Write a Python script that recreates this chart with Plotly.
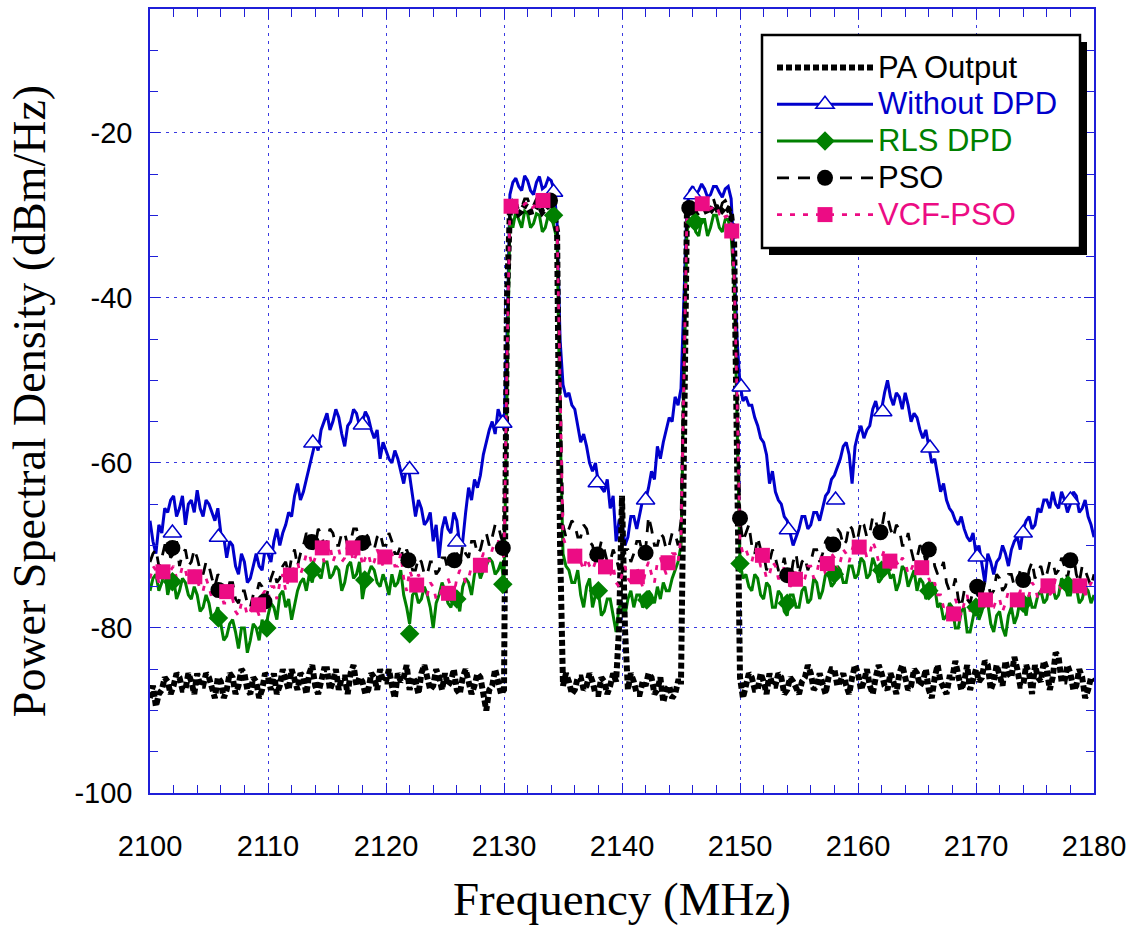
import plotly.graph_objects as go

# ---------------- data ----------------
freq = [2100 + 0.25 * i for i in range(321)]  # MHz

pa_output = [
    -88.5, -87.0, -89.5, -88.0, -87.5, -86.0, -86.5, -88.0, -87.0, -85.5, -86.0, -87.5, -87.5, -85.5, -86.5, -88.0, -85.5, -87.0, -87.0, -85.5,
    -86.0, -87.5, -88.5, -86.0, -86.5, -88.5, -87.5, -85.5, -86.0, -88.0, -87.0, -85.0, -85.5, -87.5, -88.0, -86.0, -86.5, -88.5, -87.5, -85.5,
    -86.0, -87.5, -85.5, -88.0, -87.0, -85.0, -86.0, -87.5, -85.0, -86.5, -87.5, -85.5, -86.0, -88.0, -85.5, -84.5, -87.0, -88.0, -86.5, -85.0,
    -85.0, -87.5, -86.5, -85.0, -87.5, -86.0, -86.0, -88.0, -85.5, -84.5, -87.0, -86.0, -86.5, -88.0, -87.5, -85.5, -86.0, -87.5, -85.0, -86.5,
    -86.5, -85.0, -87.0, -88.5, -85.5, -86.5, -86.0, -84.5, -87.5, -86.0, -86.5, -88.0, -85.5, -84.5, -86.0, -87.5, -87.0, -85.0, -86.0, -87.5,
    -85.5, -87.0, -86.5, -85.0, -87.5, -88.0, -86.0, -85.0, -86.5, -88.0, -87.0, -85.5, -86.0, -88.5, -90.0, -87.5, -87.0, -85.0, -86.5, -88.0,
    -87.5, -40.0, -29.5, -29.0, -29.0, -29.8, -29.5, -28.8, -29.0, -29.6, -29.5, -28.9, -28.8, -29.6, -29.2, -28.8, -29.0, -29.8, -32.0, -70.0,
    -87.0, -85.5, -86.5, -88.0, -87.5, -86.0, -86.0, -87.5, -87.0, -85.5, -86.5, -88.0, -88.0, -86.0, -86.5, -88.0, -87.0, -85.5, -86.5, -80.0,
    -64.0, -80.0, -87.5, -85.5, -86.5, -88.0, -88.0, -86.5, -87.0, -85.5, -86.0, -88.0, -87.5, -86.0, -89.0, -87.5, -87.0, -88.5, -88.0, -86.5,
    -86.5, -50.0, -30.0, -29.2, -29.0, -29.8, -29.5, -28.8, -29.0, -29.8, -29.5, -28.9, -29.0, -29.8, -29.5, -29.0, -29.2, -30.0, -33.0, -60.0,
    -86.0, -88.5, -87.0, -85.5, -86.0, -87.5, -87.5, -85.5, -86.5, -88.0, -85.5, -87.0, -87.0, -85.5, -86.0, -88.0, -87.5, -86.0, -86.5, -87.5,
    -88.0, -86.5, -86.0, -84.5, -85.5, -87.5, -87.0, -85.5, -86.5, -88.0, -86.0, -85.0, -85.0, -87.0, -86.5, -85.5, -87.0, -88.0, -86.0, -84.5,
    -85.5, -87.5, -86.5, -85.0, -87.0, -88.0, -86.0, -84.5, -85.5, -87.0, -87.5, -85.5, -86.5, -88.0, -85.5, -84.5, -86.0, -87.5, -87.0, -85.0,
    -85.5, -87.0, -86.5, -85.0, -87.5, -88.5, -86.0, -84.5, -86.5, -87.5, -88.0, -86.0, -86.0, -84.0, -85.5, -87.5, -86.5, -84.5, -87.5, -86.0,
    -85.0, -86.5, -86.0, -84.0, -84.5, -87.5, -86.5, -84.5, -85.5, -87.0, -84.0, -85.5, -86.0, -83.5, -85.0, -87.0, -87.0, -84.5, -85.5, -88.0,
    -84.5, -86.0, -86.5, -84.0, -85.0, -87.5, -86.0, -83.0, -83.5, -86.5, -86.5, -84.5, -85.5, -87.5, -87.0, -85.0, -86.0, -88.5, -87.5, -86.0,
    -86.5,
]

without_dpd = [
    -67.0, -69.5, -71.0, -67.5, -68.5, -65.5, -66.0, -64.5, -64.0, -66.5, -65.5, -64.0, -67.5, -65.0, -64.5, -66.0, -63.3, -65.5, -66.5, -64.5,
    -65.0, -66.0, -67.0, -65.5, -68.5, -69.0, -71.5, -69.5, -70.0, -72.5, -73.5, -71.0, -72.0, -74.5, -74.0, -72.5, -71.0, -72.5, -73.0, -70.5,
    -71.0, -72.0, -69.5, -68.0, -70.0, -68.5, -67.5, -66.0, -66.5, -64.0, -62.5, -64.5, -63.5, -62.0, -60.5, -59.0, -57.5, -58.5, -56.0, -55.0,
    -54.0, -56.0, -55.0, -53.5, -54.5, -56.5, -58.0, -55.5, -55.0, -53.5, -54.0, -55.5, -55.0, -53.8, -54.5, -56.0, -57.0, -56.0, -59.5, -57.5,
    -58.5, -59.5, -60.0, -58.5, -59.5, -61.0, -62.5, -60.5, -61.5, -64.0, -66.5, -64.5, -65.5, -67.5, -67.0, -66.0, -69.5, -67.5, -71.5, -68.0,
    -66.5, -68.0, -68.5, -66.0, -67.0, -70.0, -69.5, -66.0, -63.0, -64.5, -62.0, -63.0, -61.5, -59.0, -57.5, -56.0, -55.0, -56.5, -53.5, -54.5,
    -56.0, -45.0, -27.5, -26.0, -25.5, -26.5, -27.0, -25.2, -25.8, -27.0, -27.5, -26.0, -25.3, -26.8, -26.5, -25.5, -25.8, -27.0, -31.0, -45.0,
    -50.5, -52.0, -51.5, -53.0, -53.5, -55.5, -57.5, -56.5, -58.0, -60.0, -61.0, -60.0, -62.5, -63.0, -63.5, -62.0, -65.5, -64.0, -69.5, -67.0,
    -67.0, -70.0, -69.0, -66.5, -66.5, -68.0, -66.0, -64.5, -64.5, -63.0, -61.0, -62.0, -58.0, -59.5, -57.5, -56.0, -54.5, -55.0, -52.0, -53.0,
    -51.0, -40.0, -29.0, -27.0, -26.5, -27.5, -27.0, -26.2, -26.8, -27.8, -27.5, -26.5, -26.5, -27.2, -27.8, -26.8, -26.5, -28.0, -35.0, -45.0,
    -50.5, -52.5, -52.0, -53.0, -53.0, -54.5, -55.5, -57.0, -57.5, -59.0, -62.5, -61.0, -63.5, -64.5, -65.0, -66.5, -67.0, -68.5, -70.0, -69.0,
    -68.0, -66.5, -66.5, -68.0, -67.5, -66.0, -66.0, -67.0, -65.5, -64.0, -63.5, -62.0, -61.5, -60.5, -59.5, -58.0, -57.5, -59.0, -62.5, -58.0,
    -56.5, -55.5, -57.0, -56.0, -55.5, -53.5, -52.5, -54.0, -53.5, -51.5, -50.0, -52.0, -53.0, -51.5, -52.0, -53.5, -51.5, -53.0, -55.0, -54.0,
    -54.5, -56.0, -57.0, -56.0, -58.0, -60.0, -59.5, -61.5, -63.5, -62.5, -64.5, -65.5, -66.0, -67.0, -67.5, -66.5, -68.0, -69.0, -69.5, -68.5,
    -71.0, -70.0, -72.5, -74.5, -71.0, -72.0, -73.5, -72.0, -71.5, -70.0, -71.0, -72.5, -70.5, -69.5, -69.0, -70.5, -68.0, -67.0, -66.5, -68.0,
    -67.5, -65.5, -66.0, -64.5, -64.5, -65.5, -63.5, -65.0, -65.5, -63.5, -64.5, -66.0, -65.0, -63.5, -64.0, -66.0, -65.5, -64.5, -66.5, -67.5,
    -69.0,
]

rls_dpd = [
    -75.5, -74.0, -73.5, -75.5, -74.5, -73.0, -76.0, -74.5, -74.0, -76.5, -75.5, -74.0, -74.5, -76.0, -76.5, -75.0, -76.0, -78.0, -77.5, -76.0,
    -77.0, -79.0, -78.5, -77.5, -79.5, -81.5, -81.0, -79.5, -79.0, -80.5, -82.5, -80.0, -80.0, -83.0, -81.5, -79.5, -80.0, -81.5, -79.0, -80.5,
    -78.5, -77.0, -77.5, -79.0, -76.0, -75.5, -77.5, -76.5, -79.0, -77.0, -75.5, -74.5, -74.0, -75.5, -73.5, -74.5, -72.5, -73.5, -74.0, -72.0,
    -72.0, -74.0, -73.5, -72.5, -73.0, -75.5, -74.5, -72.5, -72.0, -74.0, -73.5, -72.0, -76.5, -74.5, -73.5, -72.5, -73.0, -74.5, -75.0, -73.5,
    -74.5, -76.0, -73.5, -75.0, -74.5, -73.0, -76.0, -77.5, -79.5, -76.0, -75.5, -77.0, -76.5, -75.0, -76.0, -77.5, -80.0, -77.0, -76.0, -74.5,
    -75.5, -77.0, -77.5, -76.0, -76.5, -78.0, -75.0, -74.0, -74.5, -76.0, -73.5, -72.5, -74.0, -73.0, -72.5, -71.5, -72.0, -73.5, -73.0, -72.0,
    -74.5, -50.0, -30.0, -31.5, -29.5, -30.5, -31.5, -29.5, -29.8, -31.5, -31.0, -29.8, -30.0, -32.0, -31.5, -30.0, -30.0, -31.5, -33.0, -55.0,
    -71.0, -72.5, -73.0, -74.5, -74.5, -73.0, -76.0, -77.5, -75.0, -74.0, -77.5, -76.0, -75.5, -78.5, -78.0, -76.5, -76.5, -78.5, -80.5, -77.5,
    -77.0, -78.5, -76.5, -75.5, -77.5, -76.0, -76.0, -77.5, -77.0, -75.5, -76.0, -77.0, -75.0, -76.5, -74.5, -75.5, -75.5, -74.0, -73.0, -72.0,
    -70.0, -50.0, -32.0, -30.5, -30.5, -32.0, -32.5, -30.5, -30.5, -32.5, -31.5, -30.0, -30.0, -31.5, -32.0, -30.5, -30.5, -32.5, -38.0, -55.0,
    -72.0, -74.0, -73.5, -75.0, -75.5, -73.5, -74.0, -76.0, -76.5, -74.5, -75.0, -77.5, -77.5, -75.5, -76.0, -78.0, -78.5, -76.0, -76.0, -77.5,
    -77.5, -75.5, -75.0, -77.0, -76.5, -74.0, -74.5, -76.5, -75.5, -73.5, -73.5, -75.0, -74.5, -72.5, -73.0, -74.5, -74.5, -72.5, -72.5, -74.0,
    -73.5, -71.5, -72.0, -74.0, -73.5, -71.5, -72.5, -74.5, -74.0, -72.0, -72.5, -74.0, -73.5, -75.5, -74.5, -72.5, -73.0, -75.0, -74.0, -73.0,
    -75.5, -74.0, -74.5, -76.5, -76.0, -74.5, -75.0, -77.5, -77.0, -79.0, -78.5, -77.0, -77.5, -80.0, -80.0, -78.0, -77.5, -80.5, -80.5, -78.5,
    -77.0, -79.0, -78.0, -76.5, -77.0, -79.5, -80.5, -78.5, -78.0, -80.0, -81.0, -78.5, -77.5, -79.5, -78.5, -76.5, -77.0, -78.5, -76.0, -77.5,
    -77.5, -76.0, -75.5, -77.0, -76.5, -74.5, -75.0, -76.5, -76.0, -74.0, -74.5, -76.0, -76.0, -74.5, -75.0, -77.0, -76.5, -75.0, -75.5, -77.0,
    -76.0,
]

pso = [
    -72.0, -71.0, -70.5, -72.5, -71.5, -70.0, -70.0, -71.5, -71.0, -69.5, -72.5, -71.0, -70.5, -72.5, -72.0, -70.5, -71.5, -73.0, -73.5, -72.0,
    -72.5, -74.0, -75.0, -73.5, -74.0, -75.5, -76.0, -74.5, -74.5, -76.5, -77.0, -75.5, -75.5, -77.0, -77.5, -76.0, -76.0, -74.5, -75.0, -76.5,
    -75.5, -74.0, -73.0, -74.5, -74.0, -72.5, -72.0, -73.5, -71.5, -70.5, -72.5, -71.0, -70.0, -68.5, -69.0, -70.5, -70.0, -68.0, -68.5, -70.0,
    -69.5, -68.0, -68.5, -70.0, -70.0, -68.5, -68.5, -70.0, -69.5, -68.0, -68.0, -69.5, -70.0, -68.5, -69.0, -70.5, -70.5, -69.0, -68.5, -70.0,
    -70.0, -68.5, -69.5, -71.0, -71.0, -70.0, -72.0, -70.5, -71.5, -73.0, -73.0, -71.5, -72.0, -73.5, -73.5, -72.0, -72.0, -73.5, -73.0, -71.5,
    -71.5, -73.0, -72.0, -70.5, -71.0, -72.5, -70.0, -71.0, -71.5, -69.5, -69.5, -71.0, -70.5, -69.0, -68.5, -70.0, -69.0, -67.5, -67.5, -69.0,
    -70.0, -48.0, -29.0, -28.2, -28.5, -29.2, -29.0, -28.0, -28.0, -29.0, -28.8, -28.0, -28.0, -28.8, -28.5, -27.8, -28.2, -29.0, -31.0, -50.0,
    -67.5, -69.0, -68.0, -67.0, -67.5, -69.0, -69.0, -67.5, -68.0, -69.5, -70.0, -71.5, -71.0, -69.5, -70.5, -72.0, -72.0, -70.5, -71.5, -73.0,
    -72.0, -70.5, -70.5, -72.0, -71.0, -69.5, -69.5, -71.0, -70.5, -66.5, -68.0, -70.0, -70.0, -68.5, -69.0, -70.5, -70.0, -68.5, -68.5, -70.0,
    -67.0, -48.0, -29.5, -28.5, -29.0, -29.5, -28.8, -28.2, -29.0, -29.5, -28.5, -28.0, -29.2, -29.8, -28.5, -28.2, -29.0, -30.0, -36.0, -52.0,
    -67.0, -69.5, -68.5, -67.5, -70.0, -71.0, -69.0, -70.5, -71.0, -73.0, -72.0, -70.5, -71.5, -73.0, -73.0, -71.5, -73.5, -74.5, -72.0, -71.0,
    -73.5, -72.0, -71.5, -73.0, -72.0, -70.5, -70.5, -72.0, -71.0, -69.5, -69.0, -70.5, -70.0, -68.0, -68.5, -70.0, -69.5, -67.5, -68.0, -69.5,
    -69.0, -67.0, -67.5, -69.0, -68.5, -66.5, -67.0, -68.5, -68.0, -66.0, -66.5, -68.0, -69.0, -67.5, -68.0, -70.0, -70.0, -68.5, -70.5, -72.0,
    -71.5, -70.0, -70.5, -72.0, -71.0, -70.0, -72.5, -73.5, -73.0, -72.0, -74.5, -75.5, -75.5, -74.0, -76.5, -77.5, -75.5, -76.5, -77.0, -75.5,
    -75.0, -76.5, -76.0, -74.5, -74.5, -76.0, -75.5, -73.5, -74.0, -75.5, -75.0, -73.5, -73.5, -75.0, -74.5, -73.0, -74.0, -75.0, -73.0, -72.0,
    -74.0, -73.0, -72.5, -74.0, -73.5, -72.0, -72.0, -73.5, -73.0, -71.5, -72.5, -74.0, -72.0, -71.0, -73.5, -74.5, -72.5, -73.0, -74.0, -75.0,
    -73.5,
]

vcf_pso = [
    -74.0, -72.5, -73.0, -74.5, -73.5, -72.5, -74.5, -73.0, -72.5, -74.0, -74.0, -72.5, -73.0, -74.5, -74.5, -73.0, -74.0, -75.5, -75.5, -74.0,
    -75.0, -76.5, -76.5, -75.0, -75.5, -77.0, -77.0, -75.5, -76.5, -78.0, -78.5, -77.0, -77.0, -78.5, -78.0, -76.5, -77.5, -78.5, -76.0, -75.5,
    -76.5, -75.0, -75.0, -76.5, -74.5, -73.5, -75.5, -74.0, -73.5, -72.5, -72.0, -73.5, -72.5, -71.0, -71.0, -72.5, -71.5, -70.5, -70.5, -72.0,
    -71.0, -70.0, -72.0, -71.0, -70.5, -72.0, -71.5, -70.0, -70.5, -72.0, -71.0, -70.0, -72.5, -71.5, -71.0, -72.5, -72.0, -70.5, -71.5, -72.5,
    -72.0, -70.5, -71.0, -72.5, -72.5, -71.0, -74.0, -75.5, -73.0, -74.0, -75.0, -73.5, -74.5, -76.0, -76.0, -74.5, -75.0, -76.5, -76.5, -75.0,
    -75.5, -74.0, -75.0, -76.0, -74.0, -73.0, -73.5, -74.5, -74.0, -72.5, -72.5, -73.5, -72.0, -71.0, -71.0, -72.0, -70.5, -69.5, -69.5, -70.5,
    -71.5, -48.0, -29.0, -28.4, -28.5, -29.0, -29.2, -28.6, -28.5, -29.2, -29.0, -28.4, -28.2, -28.8, -28.6, -28.3, -28.5, -29.3, -31.5, -50.0,
    -69.0, -70.0, -70.5, -72.0, -71.0, -70.5, -72.0, -73.0, -71.5, -72.5, -73.0, -72.0, -72.5, -71.5, -72.5, -73.5, -73.5, -72.5, -74.5, -75.0,
    -73.5, -72.5, -74.0, -74.5, -73.5, -72.5, -74.0, -75.0, -73.0, -72.0, -73.5, -74.5, -72.0, -71.5, -72.5, -73.5, -72.0, -71.0, -71.0, -72.0,
    -69.0, -48.0, -30.0, -29.2, -29.0, -28.4, -28.6, -29.3, -28.5, -28.2, -29.2, -29.0, -28.8, -29.8, -29.5, -30.2, -30.0, -31.0, -37.0, -52.0,
    -69.5, -71.0, -70.5, -71.5, -72.0, -70.5, -71.0, -72.5, -72.5, -74.0, -73.5, -72.0, -72.5, -74.0, -74.0, -72.5, -73.5, -75.0, -74.5, -73.0,
    -73.0, -74.5, -74.0, -72.5, -72.5, -74.0, -73.5, -71.5, -72.0, -73.5, -72.5, -71.0, -71.5, -73.0, -72.0, -70.5, -71.0, -72.0, -70.5, -69.5,
    -71.0, -70.5, -70.0, -71.5, -71.0, -69.5, -70.5, -72.0, -71.5, -70.5, -72.0, -73.0, -71.0, -72.0, -72.5, -71.5, -72.0, -73.5, -73.0, -72.0,
    -72.5, -73.5, -73.0, -72.0, -74.0, -75.0, -74.5, -76.0, -76.0, -77.5, -77.0, -78.5, -78.0, -76.5, -77.5, -78.5, -77.0, -76.0, -78.0, -77.5,
    -76.5, -78.0, -77.0, -76.0, -76.5, -77.5, -77.5, -76.5, -76.5, -78.0, -77.0, -75.5, -76.0, -77.5, -76.5, -75.5, -75.5, -77.0, -76.0, -74.5,
    -75.0, -76.5, -75.5, -74.5, -74.5, -76.0, -75.5, -74.0, -74.5, -75.5, -75.0, -74.0, -74.0, -75.5, -75.0, -74.0, -74.5, -76.0, -75.5, -74.5,
    -75.0,
]

# marker positions (sparse symbols drawn along each curve)
wo_mk_x = [2101.9, 2105.8, 2109.9, 2113.8, 2118.0, 2122.0, 2126.0, 2129.9, 2134.2, 2137.9,
           2142.0, 2146.0, 2150.1, 2154.1, 2158.1, 2162.1, 2166.1, 2170.1, 2174.0, 2178.0]
wo_mk_y = [-68.5, -69.0, -70.5, -57.6, -55.4, -60.8, -69.6, -55.2, -27.2, -62.4,
           -64.5, -27.5, -50.8, -68.1, -64.5, -53.8, -58.2, -71.4, -68.5, -64.5]

rls_mk_x = [2101.9, 2105.8, 2109.9, 2113.8, 2118.2, 2122.0, 2126.0, 2129.9, 2134.2, 2138.0,
            2142.1, 2146.2, 2150.0, 2154.0, 2158.0, 2162.0, 2166.0, 2170.0, 2174.0, 2177.8]
rls_mk_y = [-74.4, -78.8, -80.0, -73.0, -74.2, -80.7, -76.5, -74.7, -30.0, -75.5,
            -76.6, -30.8, -72.2, -77.0, -73.5, -73.0, -75.5, -77.5, -77.0, -74.8]

pso_mk_x = [2101.9, 2105.8, 2109.7, 2113.7, 2118.0, 2121.9, 2125.8, 2129.9, 2133.9, 2137.9,
            2142.0, 2145.7, 2150.0, 2154.0, 2157.9, 2161.9, 2166.0, 2170.1, 2174.0, 2178.0]
pso_mk_y = [-70.3, -75.4, -76.8, -69.6, -69.7, -71.8, -71.8, -70.3, -28.2, -71.1,
            -70.9, -29.1, -66.7, -73.6, -69.9, -68.4, -70.5, -75.0, -74.2, -71.8]

vcf_mk_x = [2101.1, 2103.8, 2106.5, 2109.2, 2111.9, 2114.6, 2117.2, 2119.9, 2122.6, 2125.3,
            2128.0, 2130.6, 2133.3, 2136.0, 2138.6, 2141.3, 2143.9, 2146.8, 2149.3, 2151.9,
            2154.7, 2157.4, 2160.1, 2162.7, 2165.4, 2168.1, 2170.8, 2173.5, 2176.1, 2178.8]
vcf_mk_y = [-73.2, -73.8, -75.6, -77.2, -73.6, -70.3, -70.3, -71.4, -74.8, -75.8,
            -72.4, -28.9, -28.2, -71.3, -72.6, -73.8, -72.1, -28.6, -31.9, -71.2,
            -74.1, -72.2, -70.2, -71.9, -72.7, -78.3, -76.6, -76.6, -74.9, -74.9]

series_names = ["PA Output", "Without DPD", "RLS DPD", "PSO", "VCF-PSO"]
x_ticks = [2100, 2110, 2120, 2130, 2140, 2150, 2160, 2170, 2180]
y_ticks = [-100, -80, -60, -40, -20]

# ---------------- styles ----------------
BLUE = "#0000CC"
GREEN = "#008000"
PINK = "#EC0C84"
AXC = "#1F1FD8"
GRIDC = "#3A3AE0"

W, H = 1144, 938
L, R, T, B = 150, 50, 9, 145
PW, PH = W - L - R, H - T - B


def px_x(px):
    return (px - L) / PW


def px_y(py):
    return (H - B - py) / PH


PA_LINE = dict(color="black", width=6, dash="6px,3px")
WO_LINE = dict(color=BLUE, width=3)
RLS_LINE = dict(color=GREEN, width=3)
PSO_LINE = dict(color="black", width=2.8, dash="12px,9px")
VCF_LINE = dict(color=PINK, width=2.8, dash="5px,8px")

WO_MK = dict(symbol="triangle-up", size=16, color="white", line=dict(color=BLUE, width=1.5))
RLS_MK = dict(symbol="diamond", size=15, color=GREEN, line=dict(width=0))
PSO_MK = dict(symbol="circle", size=16, color="black", line=dict(width=0))
VCF_MK = dict(symbol="square", size=15, color=PINK, line=dict(width=0))

fig = go.Figure()

# lines
fig.add_trace(go.Scatter(x=freq, y=without_dpd, mode="lines", line=WO_LINE, showlegend=False, hoverinfo="skip"))
fig.add_trace(go.Scatter(x=freq, y=rls_dpd, mode="lines", line=RLS_LINE, showlegend=False, hoverinfo="skip"))
fig.add_trace(go.Scatter(x=freq, y=pa_output, mode="lines", line=PA_LINE, showlegend=False, hoverinfo="skip"))
fig.add_trace(go.Scatter(x=freq, y=pso, mode="lines", line=PSO_LINE, showlegend=False, hoverinfo="skip"))
fig.add_trace(go.Scatter(x=freq, y=vcf_pso, mode="lines", line=VCF_LINE, showlegend=False, hoverinfo="skip"))

# markers
fig.add_trace(go.Scatter(x=wo_mk_x, y=wo_mk_y, mode="markers", marker=WO_MK, showlegend=False))
fig.add_trace(go.Scatter(x=rls_mk_x, y=rls_mk_y, mode="markers", marker=RLS_MK, showlegend=False))
fig.add_trace(go.Scatter(x=pso_mk_x, y=pso_mk_y, mode="markers", marker=PSO_MK, showlegend=False))
fig.add_trace(go.Scatter(x=vcf_mk_x, y=vcf_mk_y, mode="markers", marker=VCF_MK, showlegend=False))

# legend entries
leg_styles = [
    (PA_LINE, None, "black"),
    (WO_LINE, WO_MK, BLUE),
    (RLS_LINE, RLS_MK, GREEN),
    (PSO_LINE, PSO_MK, "black"),
    (VCF_LINE, VCF_MK, PINK),
]
for name, (ln, mk, tc) in zip(series_names, leg_styles):
    fig.add_trace(go.Scatter(
        x=[None], y=[None], mode="lines+markers" if mk else "lines",
        line=ln, marker=mk if mk else dict(size=1),
        name=f'<span style="color:{tc};font-size:31px">{name}</span>', showlegend=True))

# legend box (shadow + frame)
fig.add_shape(type="rect", xref="paper", yref="paper",
              x0=px_x(769), x1=px_x(1087), y0=px_y(255), y1=px_y(42),
              fillcolor="black", line=dict(width=0), layer="above")
fig.add_shape(type="rect", xref="paper", yref="paper",
              x0=px_x(762), x1=px_x(1080), y0=px_y(248), y1=px_y(35),
              fillcolor="white", line=dict(color="black", width=2.5), layer="above")

fig.update_layout(
    width=W, height=H,
    margin=dict(l=L, r=R, t=T, b=B, autoexpand=False),
    paper_bgcolor="white", plot_bgcolor="white",
    font=dict(family="Arial, Liberation Sans, sans-serif", color="black"),
    legend=dict(x=px_x(772), y=px_y(44), xanchor="left", yanchor="top",
                bgcolor="rgba(0,0,0,0)", borderwidth=0,
                font=dict(family="Arial, Liberation Sans, sans-serif", size=26),
                itemwidth=96, traceorder="normal"),
    xaxis=dict(
        range=[2100, 2180], tickvals=x_ticks, ticktext=[str(v) for v in x_ticks],
        showline=True, linecolor=AXC, linewidth=1.5, mirror="allticks",
        ticks="inside", ticklen=10, tickcolor=AXC, tickwidth=1,
        showgrid=True, gridcolor=GRIDC, griddash="3px,5px", gridwidth=1.2,
        zeroline=False, ticklabelstandoff=26,
        tickfont=dict(family="Arial, Liberation Sans, sans-serif", size=29, color="black"),
        minor=dict(dtick=2, tick0=2100, ticks="inside", ticklen=8, tickcolor=AXC, showgrid=False),
        title=dict(text="Frequency (MHz)", standoff=22,
                   font=dict(family="Times New Roman, Liberation Serif, serif", size=47, color="black")),
    ),
    yaxis=dict(
        range=[-100, -5], tickvals=y_ticks, ticktext=[str(v) for v in y_ticks],
        showline=True, linecolor=AXC, linewidth=1.5, mirror="allticks",
        ticks="inside", ticklen=10, tickcolor=AXC, tickwidth=1,
        showgrid=True, gridcolor=GRIDC, griddash="3px,5px", gridwidth=1.2,
        zeroline=False, ticklabelstandoff=10,
        tickfont=dict(family="Arial, Liberation Sans, sans-serif", size=29, color="black"),
        minor=dict(dtick=5, tick0=-100, ticks="inside", ticklen=8, tickcolor=AXC, showgrid=False),
        title=dict(text="Power Spectral Density (dBm/Hz)", standoff=14,
                   font=dict(family="Times New Roman, Liberation Serif, serif", size=46, color="black")),
    ),
)

fig.write_html("out.html")
